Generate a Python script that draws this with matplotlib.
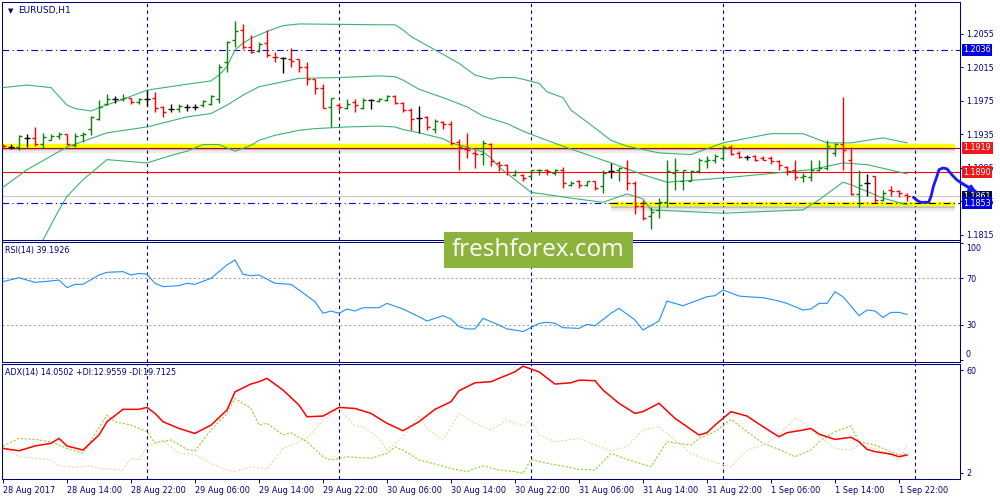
import matplotlib
matplotlib.use("Agg")
import matplotlib.pyplot as plt
import matplotlib.patheffects as pe
from matplotlib.collections import LineCollection
from matplotlib.patches import Rectangle
from matplotlib.transforms import blended_transform_factory

plt.rcParams['font.family'] = ['DejaVu Sans']

NAVY = '#000080'

# EURUSD H1 bars, 28 Aug 06:00 .. 1 Sep 23:00 (bar index 0..113)
opens = [1.1923, 1.1920, 1.1920, 1.1931, 1.1931, 1.1924, 1.1929, 1.1933, 1.1936, 1.1922,
         1.1934, 1.1942, 1.1953, 1.1972, 1.1977, 1.1977, 1.1979, 1.1974, 1.1977, 1.1978,
         1.1968, 1.1965, 1.1965, 1.1968, 1.1968, 1.1970, 1.1972, 1.1977, 1.2022, 1.2048,
         1.2060, 1.2039, 1.2035, 1.2044, 1.2028, 1.2026, 1.2025, 1.2025, 1.2015, 1.2001,
         1.1991, 1.1968, 1.1970, 1.1967, 1.1974, 1.1967, 1.1976, 1.1975, 1.1976, 1.1981,
         1.1973, 1.1964, 1.1955, 1.1956, 1.1941, 1.1950, 1.1948, 1.1926, 1.1918, 1.1913,
         1.1912, 1.1924, 1.1901, 1.1899, 1.1887, 1.1887, 1.1885, 1.1892, 1.1893, 1.1889,
         1.1893, 1.1875, 1.1879, 1.1875, 1.1879, 1.1873, 1.1891, 1.1892, 1.1895, 1.1877,
         1.1850, 1.1838, 1.1845, 1.1854, 1.1889, 1.1879, 1.1880, 1.1891, 1.1903, 1.1905,
         1.1907, 1.1920, 1.1913, 1.1908, 1.1909, 1.1907, 1.1907, 1.1903, 1.1896, 1.1893,
         1.1884, 1.1884, 1.1893, 1.1895, 1.1913, 1.1924, 1.1905, 1.1864, 1.1877, 1.1885,
         1.1857, 1.1869, 1.1867, 1.1863]
highs = [1.1924, 1.1924, 1.1934, 1.1936, 1.1944, 1.1937, 1.1936, 1.1938, 1.1936, 1.1937,
         1.1938, 1.1957, 1.1976, 1.1983, 1.1981, 1.1983, 1.1979, 1.1978, 1.1988, 1.1986,
         1.1969, 1.1972, 1.1971, 1.1971, 1.1971, 1.1976, 1.1982, 1.2019, 1.2047, 1.2071,
         1.2067, 1.2054, 1.2046, 1.2060, 1.2033, 1.2027, 1.2038, 1.2025, 1.2021, 1.2001,
         1.1995, 1.1979, 1.1973, 1.1977, 1.1977, 1.1978, 1.1977, 1.1978, 1.1982, 1.1982,
         1.1974, 1.1967, 1.1969, 1.1957, 1.1954, 1.1951, 1.1951, 1.1930, 1.1937, 1.1916,
         1.1928, 1.1925, 1.1903, 1.1900, 1.1893, 1.1888, 1.1893, 1.1894, 1.1894, 1.1894,
         1.1896, 1.1880, 1.1881, 1.1880, 1.1880, 1.1893, 1.1901, 1.1896, 1.1904, 1.1879,
         1.1857, 1.1849, 1.1859, 1.1905, 1.1907, 1.1893, 1.1893, 1.1907, 1.1909, 1.1912,
         1.1922, 1.1922, 1.1915, 1.1911, 1.1911, 1.1909, 1.1909, 1.1904, 1.1897, 1.1905,
         1.1889, 1.1905, 1.1905, 1.1929, 1.1925, 1.1980, 1.1920, 1.1893, 1.1888, 1.1886,
         1.1869, 1.1874, 1.1869, 1.1865]
lows = [1.1920, 1.1918, 1.1917, 1.1920, 1.1921, 1.1919, 1.1928, 1.1930, 1.1922, 1.1920,
        1.1926, 1.1934, 1.1952, 1.1970, 1.1973, 1.1975, 1.1972, 1.1972, 1.1969, 1.1962,
        1.1956, 1.1962, 1.1962, 1.1963, 1.1964, 1.1968, 1.1970, 1.1973, 1.2010, 1.2040,
        1.2037, 1.2032, 1.2033, 1.2028, 1.2021, 1.2008, 1.2016, 1.2010, 1.1994, 1.1983,
        1.1967, 1.1944, 1.1964, 1.1965, 1.1962, 1.1965, 1.1965, 1.1974, 1.1975, 1.1972,
        1.1962, 1.1940, 1.1937, 1.1940, 1.1937, 1.1941, 1.1922, 1.1892, 1.1907, 1.1895,
        1.1898, 1.1897, 1.1891, 1.1887, 1.1885, 1.1880, 1.1883, 1.1887, 1.1887, 1.1887,
        1.1871, 1.1873, 1.1871, 1.1873, 1.1869, 1.1865, 1.1883, 1.1879, 1.1869, 1.1840,
        1.1833, 1.1822, 1.1835, 1.1848, 1.1869, 1.1869, 1.1879, 1.1889, 1.1895, 1.1901,
        1.1905, 1.1910, 1.1907, 1.1905, 1.1903, 1.1904, 1.1900, 1.1893, 1.1887, 1.1881,
        1.1878, 1.1880, 1.1891, 1.1893, 1.1909, 1.1892, 1.1863, 1.1848, 1.1861, 1.1853,
        1.1856, 1.1861, 1.1860, 1.1855]
closes = [1.1921, 1.1920, 1.1933, 1.1931, 1.1924, 1.1932, 1.1933, 1.1936, 1.1924, 1.1933,
          1.1936, 1.1956, 1.1968, 1.1977, 1.1977, 1.1979, 1.1974, 1.1977, 1.1977, 1.1967,
          1.1962, 1.1965, 1.1969, 1.1968, 1.1968, 1.1975, 1.1981, 1.2016, 1.2046, 1.2059,
          1.2039, 1.2034, 1.2043, 1.2030, 1.2027, 1.2026, 1.2023, 1.2015, 1.2001, 1.1991,
          1.1967, 1.1978, 1.1968, 1.1971, 1.1970, 1.1976, 1.1976, 1.1977, 1.1981, 1.1973,
          1.1964, 1.1954, 1.1955, 1.1944, 1.1951, 1.1948, 1.1925, 1.1920, 1.1917, 1.1912,
          1.1925, 1.1903, 1.1899, 1.1890, 1.1890, 1.1883, 1.1892, 1.1893, 1.1891, 1.1892,
          1.1877, 1.1877, 1.1875, 1.1879, 1.1871, 1.1889, 1.1891, 1.1895, 1.1877, 1.1850,
          1.1835, 1.1842, 1.1854, 1.1891, 1.1892, 1.1892, 1.1891, 1.1904, 1.1905, 1.1909,
          1.1920, 1.1912, 1.1908, 1.1908, 1.1905, 1.1905, 1.1903, 1.1899, 1.1891, 1.1884,
          1.1885, 1.1893, 1.1895, 1.1921, 1.1924, 1.1916, 1.1864, 1.1875, 1.1877, 1.1857,
          1.1865, 1.1867, 1.1865, 1.1861]

time_labels = ['28 Aug 2017', '28 Aug 14:00', '28 Aug 22:00', '29 Aug 06:00', '29 Aug 14:00',
               '29 Aug 22:00', '30 Aug 06:00', '30 Aug 14:00', '30 Aug 22:00', '31 Aug 06:00',
               '31 Aug 14:00', '31 Aug 22:00', '1 Sep 06:00', '1 Sep 14:00', '1 Sep 22:00']
label_bars = [0, 8, 16, 24, 32, 40, 48, 56, 64, 72, 80, 88, 96, 104, 112]
day_starts = [18, 42, 66, 90, 114]

# Bollinger bands (bar index, price)
bb_up_x = [0, 3, 6, 8, 9, 11, 12, 15, 18, 23, 26, 27, 28, 29, 30, 31, 33, 35, 37, 47, 49,
           50, 51, 54, 57, 59, 61, 62, 64, 65, 67, 68, 70, 71, 73, 76, 78, 82, 86, 90, 96,
           100, 103, 106, 110, 113]
bb_up = [1.1991, 1.1994, 1.1991, 1.1970, 1.1966, 1.1963, 1.1967, 1.1977, 1.1988, 1.1995,
         1.1999, 1.2006, 1.2016, 1.2036, 1.2044, 1.2050, 1.2058, 1.2065, 1.2067, 1.2066,
         1.2066, 1.2060, 1.2052, 1.2036, 1.2020, 1.2006, 1.2001, 1.2003, 1.2003, 1.2001,
         1.1996, 1.1986, 1.1979, 1.1964, 1.1950, 1.1928, 1.1921, 1.1913, 1.1911, 1.1925,
         1.1936, 1.1936, 1.1925, 1.1925, 1.1931, 1.1925]
bb_mid_x = [0, 3, 8, 13, 18, 23, 26, 28, 30, 32, 35, 37, 42, 47, 49, 50, 52, 55, 58, 60,
            63, 65, 68, 70, 76, 80, 83, 90, 101, 105, 108, 113]
bb_mid = [1.1872, 1.1893, 1.1920, 1.1937, 1.1944, 1.1956, 1.1960, 1.1970, 1.1982, 1.1992,
          1.1998, 1.2002, 1.2003, 1.2005, 1.2004, 1.2000, 1.1989, 1.1979, 1.1968, 1.1957,
          1.1948, 1.1939, 1.1928, 1.1921, 1.1901, 1.1887, 1.1878, 1.1883, 1.1893, 1.1901,
          1.1899, 1.1888]
bb_low_x = [4, 5, 7, 8, 10, 13, 18, 21, 23, 25, 27, 29, 31, 32, 34, 37, 39, 43, 47, 49, 50,
            52, 55, 56, 58, 60, 61, 62, 66, 71, 75, 78, 80, 81, 90, 100, 102, 105, 106, 110,
            113]
bb_low = [1.1795, 1.1809, 1.1845, 1.1861, 1.1881, 1.1905, 1.1901, 1.1910, 1.1915, 1.1923,
          1.1923, 1.1915, 1.1922, 1.1928, 1.1934, 1.1940, 1.1942, 1.1944, 1.1945, 1.1944,
          1.1941, 1.1937, 1.1930, 1.1925, 1.1920, 1.1914, 1.1907, 1.1896, 1.1866, 1.1859,
          1.1854, 1.1864, 1.1858, 1.1845, 1.1841, 1.1845, 1.1857, 1.1878, 1.1875, 1.1859,
          1.1851]

# RSI(14)
rsi_x = [0, 2, 4, 6, 7, 8, 9, 10, 12, 13, 15, 16, 17, 18, 19, 20, 22, 23, 24, 26, 28, 29,
         30, 31, 32, 34, 36, 37, 39, 40, 41, 42, 43, 44, 45, 47, 48, 50, 52, 53, 55, 56, 57,
         58, 59, 60, 62, 63, 64, 65, 67, 68, 69, 70, 72, 73, 74, 76, 77, 79, 80, 82, 83, 85,
         88, 89, 90, 92, 93, 95, 97, 98, 100, 101, 102, 103, 104, 105, 107, 108, 109, 110,
         111, 112, 113]
rsi = [67.1, 70.5, 66.5, 67.7, 68.5, 62.0, 64.8, 64.8, 72.8, 75.1, 75.7, 72.8, 74.2, 73.4,
       65.7, 62.8, 63.7, 65.7, 64.8, 70.0, 81.4, 85.7, 73.4, 72.2, 72.8, 65.7, 64.8, 60.0,
       50.0, 40.0, 42.0, 40.0, 43.7, 42.0, 44.8, 44.8, 48.5, 43.7, 37.1, 33.4, 38.0, 35.1,
       28.6, 26.6, 26.6, 35.7, 30.0, 26.6, 25.7, 24.3, 31.4, 32.3, 31.4, 27.7, 27.1, 30.5,
       29.4, 40.0, 44.3, 34.3, 25.7, 33.4, 50.5, 46.5, 54.2, 55.1, 60.0, 54.8, 54.2, 53.4,
       50.5, 48.5, 42.8, 43.7, 48.5, 48.5, 58.5, 54.2, 38.0, 42.8, 42.0, 36.5, 40.8, 40.8,
       39.1]

# ADX(14), +DI, -DI
adx_x = [0, 2, 4, 6, 7, 8, 10, 12, 13, 15, 17, 18, 19, 20, 22, 24, 26, 28, 29, 31, 32, 33,
         35, 37, 38, 40, 42, 44, 46, 48, 50, 52, 54, 56, 57, 59, 61, 62, 64, 65, 67, 69, 71,
         72, 74, 75, 77, 79, 80, 82, 84, 87, 88, 89, 91, 93, 95, 97, 98, 100, 101, 102, 104,
         106, 107, 108, 109, 111, 112, 113]
adx = [15.7, 14.4, 17.1, 18.6, 21.4, 17.1, 14.8, 23.3, 30.8, 37.8, 37.8, 38.9, 35.5, 30.8,
       27.0, 24.2, 28.9, 37.4, 47.7, 52.1, 53.4, 55.3, 48.7, 40.2, 33.6, 34.0, 38.9, 38.3,
       35.5, 29.9, 25.7, 30.8, 37.8, 42.1, 48.3, 52.8, 53.4, 55.3, 59.0, 62.2, 59.0, 52.1,
       52.8, 54.3, 54.0, 48.7, 41.2, 35.5, 36.5, 41.2, 32.7, 23.3, 24.6, 28.9, 36.5, 34.0,
       28.0, 22.3, 24.6, 26.1, 27.0, 23.8, 20.8, 22.0, 19.5, 15.2, 13.9, 12.5, 11.0, 12.0]
pdi_x = [0, 2, 4, 6, 7, 8, 10, 11, 13, 14, 16, 18, 19, 21, 23, 24, 26, 28, 29, 31, 32, 33,
         35, 36, 38, 40, 41, 43, 44, 46, 48, 49, 50, 52, 54, 56, 58, 59, 60, 62, 64, 65, 66,
         68, 70, 72, 74, 76, 78, 81, 83, 86, 87, 89, 91, 93, 95, 97, 99, 101, 102, 104, 106,
         107, 109, 111, 112, 113]
pdi = [17.1, 21.4, 20.8, 19.5, 17.6, 15.7, 12.9, 20.5, 34.6, 30.8, 28.9, 25.2, 18.9, 20.5,
       15.2, 14.4, 26.1, 35.5, 44.0, 38.3, 28.9, 29.9, 23.3, 24.6, 19.5, 11.0, 9.2, 11.0,
       10.7, 10.1, 12.9, 16.7, 14.8, 9.2, 6.9, 4.4, 2.6, 4.4, 5.8, 3.5, 2.6, 1.6, 9.5, 7.3,
       5.8, 3.9, 3.5, 12.9, 9.5, 5.4, 19.5, 17.6, 21.4, 25.2, 32.1, 25.2, 18.6, 15.2, 11.0,
       14.8, 19.5, 25.2, 28.4, 19.5, 17.6, 13.9, 12.0, 12.9]
mdi_x = [0, 2, 4, 6, 7, 9, 11, 12, 15, 16, 17, 18, 20, 22, 24, 26, 28, 29, 31, 33, 35, 36,
         38, 40, 42, 44, 45, 47, 48, 50, 52, 53, 55, 57, 59, 61, 63, 65, 66, 67, 69, 72, 74,
         76, 78, 80, 82, 84, 86, 88, 91, 92, 93, 95, 97, 99, 100, 102, 104, 106, 107, 109,
         111, 112, 113]
mdi = [16.7, 11.0, 10.1, 9.2, 5.8, 5.0, 5.8, 4.4, 3.5, 10.1, 9.2, 16.7, 20.5, 12.9, 12.0,
       7.3, 3.5, 2.6, 5.4, 3.9, 15.7, 17.6, 21.4, 31.7, 38.3, 28.4, 28.0, 21.4, 14.8, 22.3,
       34.0, 27.0, 20.5, 35.5, 29.9, 26.1, 31.7, 28.4, 32.1, 23.3, 19.5, 21.4, 17.6, 14.4,
       16.7, 26.1, 28.0, 20.5, 12.9, 9.2, 5.4, 10.1, 14.8, 17.6, 23.3, 32.7, 30.8, 22.3,
       15.7, 14.8, 17.6, 15.7, 12.0, 9.2, 17.6]

price_ticks = [1.1815, 1.1855, 1.1895, 1.1935, 1.1975, 1.2015, 1.2055]

# drawn objects on the chart
level_high = 1.2036
level_resist = 1.1919
level_red = 1.1890
level_support = 1.1853
yellow_top = 1.1921
yellow_bottom = 1.1852
yellow_bottom_start = 76

# hand-drawn forecast arrow (bar index, price)
arrow_x = [113.8, 114.3, 114.7, 115.7, 116.0, 116.3, 116.7, 117.0, 117.5, 118.0, 118.6,
           119.2, 119.8, 120.5, 121.3, 121.7]
arrow_y = [1.1860, 1.1856, 1.1854, 1.1854, 1.1861, 1.1873, 1.1884, 1.1893, 1.1895, 1.1894,
           1.1887, 1.1881, 1.1877, 1.1873, 1.1869, 1.1866]

W, H = 1000, 500
fig = plt.figure(figsize=(10, 5), dpi=100)
fig.patch.set_facecolor('white')


def box(l, t, r, b):
    return [l / W, 1 - b / H, (r - l) / W, (b - t) / H]


ax_p = fig.add_axes(box(2, 1.5, 960, 239.5))
ax_r = fig.add_axes(box(2, 241.5, 960, 362))
ax_a = fig.add_axes(box(2, 363.5, 960, 478.5))

xlim = (-0.125, 119.625)
for ax in (ax_p, ax_r, ax_a):
    ax.set_xlim(*xlim)
    for s in ax.spines.values():
        s.set_color(NAVY)
        s.set_linewidth(0.75)
    ax.yaxis.tick_right()
    ax.tick_params(axis='y', direction='out', length=2.5, width=0.7, colors=NAVY,
                   labelsize=5.8, pad=2)
    for d in day_starts:
        ax.axvline(d, color=NAVY, lw=0.8, ls=(0, (3, 3)), zorder=1)

ax_p.set_xticks([])
ax_r.set_xticks([])

# ---- price panel
ax_p.set_ylim(1.18096, 1.20938)
ax_p.set_yticks(price_ticks)
ax_p.set_yticklabels(['%.4f' % t for t in price_ticks])

shadow = [pe.SimpleLineShadow(offset=(0, -1.5), shadow_color='#505050', alpha=0.3),
          pe.SimpleLineShadow(offset=(0, -3.5), shadow_color='#808080', alpha=0.15),
          pe.Normal()]
ax_p.plot([xlim[0], 119], [yellow_top] * 2, color='#ffff00', lw=3.2, zorder=2,
          solid_capstyle='butt', path_effects=shadow)
ax_p.plot([yellow_bottom_start, 119], [yellow_bottom] * 2, color='#ffff00', lw=3.2,
          zorder=2, solid_capstyle='butt', path_effects=shadow)

ax_p.axhline(level_resist, color='#b00000', lw=0.8, zorder=2.2)
ax_p.axhline(level_red, color='#ff0000', lw=0.8, zorder=2.2)
ax_p.axhline(level_high, color='#0000d0', lw=0.8, ls=(0, (6, 3, 1, 3)), zorder=2.2)
ax_p.plot([xlim[0], yellow_bottom_start], [level_support] * 2, color='#0000d0', lw=0.8,
          ls=(0, (6, 3, 1, 3)), zorder=2.2)
ax_p.plot([yellow_bottom_start, xlim[1]], [level_support] * 2, color='black', lw=0.8,
          ls=(0, (6, 3, 1, 3)), zorder=2.2)
ax_p.axhline(closes[-1], color='#c8c8c8', lw=0.8, zorder=1.5)

band_col = '#3cb371'
ax_p.plot(bb_up_x, bb_up, color=band_col, lw=0.8, zorder=3)
ax_p.plot(bb_mid_x, bb_mid, color=band_col, lw=0.8, zorder=3)
ax_p.plot(bb_low_x, bb_low, color=band_col, lw=0.8, zorder=3)

segs, cols = [], []
for i in range(len(opens)):
    o, h, l, c = opens[i], highs[i], lows[i], closes[i]
    col = '#0a820a' if c > o else ('#ff0000' if c < o else '#000000')
    segs += [[(i, l), (i, h)], [(i - 0.38, o), (i, o)], [(i, c), (i + 0.38, c)]]
    cols += [col] * 3
ax_p.add_collection(LineCollection(segs, colors=cols, linewidths=1.0, zorder=4))

trans = blended_transform_factory(ax_p.transAxes, ax_p.transData)


def price_tag(val, text, fc, z=5):
    ax_p.text(1.0035, val, text, transform=trans, ha='left', va='center', color='white',
              fontsize=5.8, clip_on=False, zorder=z,
              bbox=dict(boxstyle='square,pad=0.18', fc=fc, ec='none'))


price_tag(level_high, '%.4f' % level_high, '#0000e0')
price_tag(level_resist, '%.4f' % level_resist, '#f01818')
price_tag(level_red, '%.4f' % level_red, '#f01818')
price_tag(closes[-1], '%.4f' % closes[-1], '#0a0a40', z=5)
price_tag(level_support, '%.4f' % level_support, '#0000e0', z=5.5)

ax_p.plot(arrow_x, arrow_y, color='#1a1aff', lw=2.0, clip_on=False, zorder=7,
          solid_capstyle='round', solid_joinstyle='round')
ax_p.annotate('', xy=(arrow_x[-1], arrow_y[-1]), xytext=(arrow_x[-4], arrow_y[-4]),
              arrowprops=dict(arrowstyle='->', color='#1a1aff', lw=2.0, mutation_scale=9,
                              shrinkA=0, shrinkB=0),
              annotation_clip=False, zorder=7)

fig.text(8 / W, 1 - 11 / H, '\u25bc', fontsize=5, color=NAVY, ha='left', va='center')
fig.text(18 / W, 1 - 11 / H, 'EURUSD,H1', fontsize=6.5, color=NAVY, ha='left', va='center')

# ---- RSI panel
ax_r.set_ylim(-1.7, 101.5)
for lv in (70, 30):
    ax_r.axhline(lv, color='#a8a8a8', lw=0.8, ls=(0, (2, 2)), zorder=1)
ax_r.plot(rsi_x, rsi, color='#1e90ff', lw=0.8, zorder=3)
ax_r.set_yticks([0, 30, 70, 100])
ax_r.set_yticklabels(['', '30', '70', ''])
rtrans = blended_transform_factory(ax_r.transAxes, ax_r.transData)
ax_r.text(1.006, 99.5, '100', transform=rtrans, ha='left', va='top', fontsize=5.8,
          color=NAVY, clip_on=False)
ax_r.text(1.006, 1.0, '0', transform=rtrans, ha='left', va='bottom', fontsize=5.8,
          color=NAVY, clip_on=False)
fig.text(5 / W, 1 - 251 / H, 'RSI(14) 39.1926', fontsize=5.8, color=NAVY, ha='left',
         va='center')

# ---- ADX panel
ax_a.set_ylim(-1.28, 63.7)
ax_a.plot(pdi_x, pdi, color='#9acd32', lw=0.8, ls=(0, (2, 1.5)), zorder=2)
ax_a.plot(mdi_x, mdi, color='#f2d4a8', lw=0.8, ls=(0, (2, 1.5)), zorder=2)
ax_a.plot(adx_x, adx, color='#ff0000', lw=1.1, zorder=3)
ax_a.set_yticks([2, 60])
ax_a.set_yticklabels(['2', '60'])
fig.text(5 / W, 1 - 372 / H, 'ADX(14) 14.0502 +DI:12.9559 -DI:19.7125', fontsize=5.8,
         color=NAVY, ha='left', va='center')

ax_a.set_xticks(label_bars)
ax_a.set_xticklabels(time_labels, ha='left', fontsize=5.9, color=NAVY)
ax_a.tick_params(axis='x', direction='out', length=3, width=0.7, colors=NAVY, pad=2.5)

# ---- watermark
fig.patches.append(Rectangle((444 / W, 1 - 268 / H), 189 / W, 36 / H,
                             transform=fig.transFigure, fc='#8cb43c', ec='none', zorder=20))
fig.text(538.5 / W, 1 - 250 / H, 'freshforex.com', fontsize=17.5, color='white',
         family='Open Sans', ha='center', va='center', zorder=21)

fig.savefig('out.png', dpi=100, facecolor='white')
